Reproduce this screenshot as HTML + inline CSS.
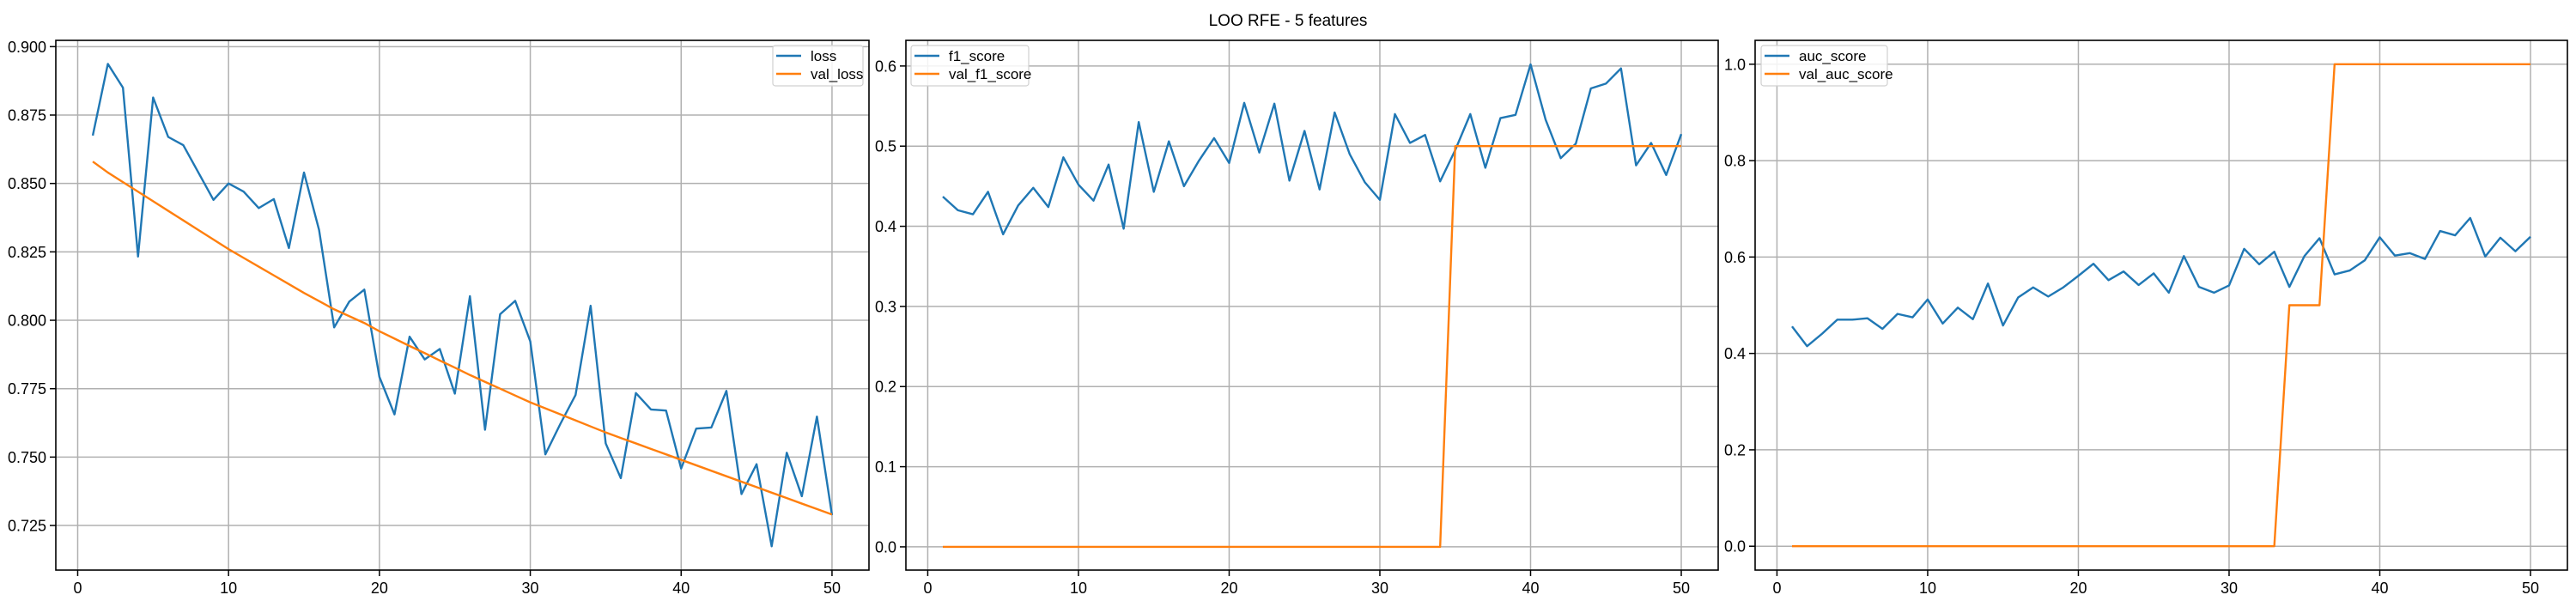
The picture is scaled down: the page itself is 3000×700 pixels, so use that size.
<!DOCTYPE html>
<html><head><meta charset="utf-8"><style>
html,body{margin:0;padding:0;background:#fff;}
svg{display:block;font-family:"Liberation Sans",sans-serif;}
</style></head><body>
<svg id="chart" width="3000" height="700" viewBox="0 0 3000 700" xmlns="http://www.w3.org/2000/svg">
<rect width="3000" height="700" fill="#fff"/>
<text x="1500" y="30" font-size="19" text-anchor="middle">LOO RFE - 5 features</text>
</svg>
<script>
const epochs = Array.from({length:50},(_,i)=>i+1);
const loss = [0.8675,0.8937,0.885,0.8233,0.8814,0.867,0.864,0.854,0.844,0.850,0.847,0.841,0.8443,0.8264,0.854,0.833,0.7974,0.8068,0.8112,0.7793,0.7656,0.794,0.7857,0.7895,0.7732,0.8088,0.760,0.8022,0.8071,0.7923,0.751,0.7622,0.7727,0.8053,0.755,0.7423,0.7734,0.7674,0.767,0.7458,0.7604,0.7608,0.7742,0.7365,0.7474,0.7174,0.7516,0.7357,0.7648,0.7288];
const valLoss = [0.858,0.854,0.8505,0.847,0.8435,0.840,0.8365,0.833,0.8295,0.826,0.8228,0.8196,0.8164,0.8132,0.810,0.807,0.804,0.8015,0.799,0.796,0.7933,0.7906,0.788,0.7853,0.7827,0.780,0.7775,0.775,0.7725,0.770,0.7678,0.7656,0.7634,0.7612,0.759,0.757,0.755,0.753,0.751,0.749,0.747,0.745,0.743,0.741,0.739,0.737,0.735,0.733,0.731,0.729];
const f1 = [0.437,0.420,0.415,0.443,0.390,0.426,0.448,0.424,0.486,0.452,0.432,0.477,0.397,0.530,0.443,0.506,0.450,0.482,0.510,0.479,0.554,0.492,0.553,0.457,0.519,0.446,0.542,0.490,0.455,0.433,0.540,0.504,0.514,0.456,0.495,0.540,0.473,0.535,0.539,0.602,0.533,0.485,0.503,0.572,0.578,0.597,0.476,0.504,0.464,0.515];
const valF1 = [0,0,0,0,0,0,0,0,0,0,0,0,0,0,0,0,0,0,0,0,0,0,0,0,0,0,0,0,0,0,0,0,0,0,0.5,0.5,0.5,0.5,0.5,0.5,0.5,0.5,0.5,0.5,0.5,0.5,0.5,0.5,0.5,0.5];
const auc = [0.456,0.415,0.441,0.470,0.470,0.473,0.451,0.482,0.475,0.512,0.462,0.495,0.471,0.545,0.458,0.516,0.537,0.518,0.537,0.561,0.586,0.552,0.570,0.542,0.566,0.526,0.602,0.538,0.526,0.541,0.617,0.585,0.611,0.538,0.602,0.639,0.564,0.572,0.593,0.641,0.603,0.608,0.596,0.654,0.645,0.681,0.601,0.640,0.612,0.642];
const valAuc = [0,0,0,0,0,0,0,0,0,0,0,0,0,0,0,0,0,0,0,0,0,0,0,0,0,0,0,0,0,0.0,0,0,0,0.5,0.5,0.5,1,1,1,1,1,1,1,1,1,1,1,1,1,1];
const xTicks = [0,10,20,30,40,50];
const lossTicks = [0.725,0.750,0.775,0.800,0.825,0.850,0.875,0.900];
const f1Ticks = [0.0,0.1,0.2,0.3,0.4,0.5,0.6];
const aucTicks = [0.0,0.2,0.4,0.6,0.8,1.0];

const NS="http://www.w3.org/2000/svg";
const svg=document.getElementById('chart');
function mk(tag,attrs,parent){const e=document.createElementNS(NS,tag);for(const k in attrs)e.setAttribute(k,attrs[k]);(parent||svg).appendChild(e);return e;}

function panel(cfg){
  const g=mk('g',{});
  
  
  const L=cfg.left,R=cfg.right,T=47,B=664;
  const xs=v=>L+(v-(-1.45))/(52.45-(-1.45))*(R-L);
  const ys=v=>B-(v-cfg.ymin)/(cfg.ymax-cfg.ymin)*(B-T);
  xTicks.forEach(t=>{
    const x=xs(t);
    const gl=mk('line',{x1:x,x2:x,y1:T,y2:B,stroke:'#b0b0b0','stroke-width':1.5},g);
    
    
    mk('line',{x1:x,x2:x,y1:B,y2:B+7,stroke:'#000','stroke-width':1.5},g);
    const tx=mk('text',{x:x,y:B+27,'font-size':18,'text-anchor':'middle'},g);
    tx.textContent=String(t);
    
    
  });
  cfg.ticks.forEach(t=>{
    const y=ys(t);
    const gl=mk('line',{x1:L,x2:R,y1:y,y2:y,stroke:'#b0b0b0','stroke-width':1.5},g);
    
    
    mk('line',{x1:L-7,x2:L,y1:y,y2:y,stroke:'#000','stroke-width':1.5},g);
    const tx=mk('text',{x:L-11,y:y+6.5,'font-size':18,'text-anchor':'end'},g);
    tx.textContent=t.toFixed(cfg.dec);
    
    
  });
  cfg.series.forEach(s=>{
    const d=epochs.map((e,i)=>(i?'L':'M')+xs(e).toFixed(2)+','+ys(s.data[i]).toFixed(2)).join(' ');
    const p=mk('path',{d:d,fill:'none',stroke:s.color,'stroke-width':2.4,'stroke-linejoin':'round'},g);
    
    
  });
  const fr=mk('rect',{x:L,y:T,width:R-L,height:B-T,fill:'none',stroke:'#000','stroke-width':1.6},g);
  
  
  // legend
  const lg=mk('g',{},g);
  
  
  mk('rect',{x:cfg.lx,y:53,width:cfg.lw,height:47,rx:3,fill:'#fff','fill-opacity':0.85,stroke:'#d0d0d0','stroke-width':1.2},lg);
  cfg.series.forEach((s,i)=>{
    const y=65+i*21;
    mk('line',{x1:cfg.lx+4,x2:cfg.lx+33,y1:y,y2:y,stroke:s.color,'stroke-width':2.4},lg);
    const t=mk('text',{x:cfg.lx+44,y:y+6,'font-size':17},lg);
    t.textContent=s.label;
    
    
  });
}
panel({name:'loss-panel',left:65,right:1012,ymin:0.7087,ymax:0.9023,ticks:lossTicks,dec:3,lx:900,lw:105,
  series:[{label:'loss',data:loss,color:'#1f77b4'},{label:'val_loss',data:valLoss,color:'#ff7f0e'}]});
panel({name:'f1-panel',left:1055,right:2001,ymin:-0.029,ymax:0.632,ticks:f1Ticks,dec:1,lx:1061,lw:137,
  series:[{label:'f1_score',data:f1,color:'#1f77b4'},{label:'val_f1_score',data:valF1,color:'#ff7f0e'}]});
panel({name:'auc-panel',left:2044,right:2990,ymin:-0.0495,ymax:1.0495,ticks:aucTicks,dec:1,lx:2051,lw:147,
  series:[{label:'auc_score',data:auc,color:'#1f77b4'},{label:'val_auc_score',data:valAuc,color:'#ff7f0e'}]});
</script>
</body></html>
